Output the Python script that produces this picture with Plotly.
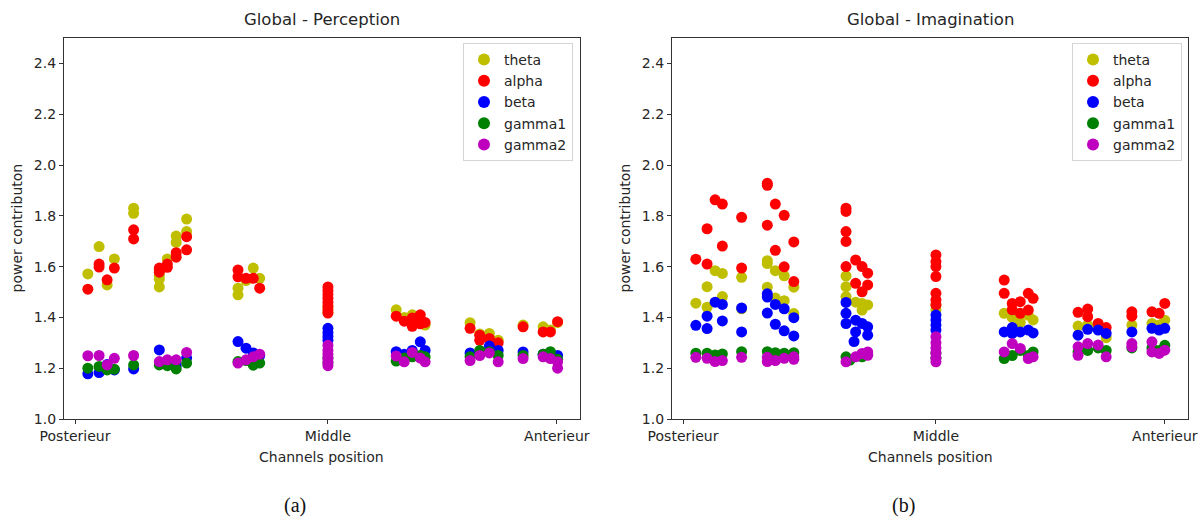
import plotly.graph_objects as go

# ---------------------------------------------------------------- data
bands = ["theta", "alpha", "beta", "gamma1", "gamma2"]

tick_pos = [0.0, 31.5, 60.0]
tick_text = ["Posterieur", "Middle", "Anterieur"]

# Perception (channel position, power contribution)
perc_theta_x = [1.6, 3.0, 4.0, 4.9, 7.3, 7.3, 10.5, 10.5, 10.5, 11.5, 12.6, 12.6, 13.9, 13.9,
                20.3, 20.3, 21.3, 22.2, 23.0, 31.5, 31.5, 40.0, 41.0, 42.0, 43.0, 43.6,
                49.2, 50.4, 51.6, 52.7, 55.8, 58.3, 59.2, 60.1]
perc_theta_y = [1.571, 1.679, 1.528, 1.630, 1.830, 1.810, 1.520, 1.550, 1.565, 1.630, 1.720, 1.695,
                1.787, 1.738, 1.489, 1.515, 1.545, 1.594, 1.554, 1.420, 1.440, 1.430, 1.400, 1.410,
                1.385, 1.370, 1.379, 1.335, 1.337, 1.310, 1.370, 1.363, 1.350, 1.380]

perc_alpha_x = [1.6, 3.0, 3.0, 4.0, 4.9, 7.3, 7.3, 10.5, 10.5, 10.5, 11.5, 11.5, 12.6, 12.6,
                13.9, 13.9, 20.3, 20.3, 21.3, 22.2, 23.0,
                31.5, 31.5, 31.5, 31.5, 31.5, 31.5, 31.5, 31.5,
                40.0, 41.0, 42.0, 42.0, 43.0, 43.0, 43.6, 49.2, 50.4, 50.4, 51.6, 52.7,
                55.8, 58.3, 59.2, 60.1]
perc_alpha_y = [1.511, 1.610, 1.598, 1.548, 1.594, 1.745, 1.709, 1.594, 1.587, 1.578, 1.610, 1.597,
                1.655, 1.637, 1.718, 1.666, 1.587, 1.560, 1.554, 1.554, 1.515,
                1.520, 1.505, 1.490, 1.475, 1.460, 1.445, 1.430, 1.417,
                1.405, 1.385, 1.398, 1.365, 1.410, 1.375, 1.380, 1.357, 1.330, 1.310, 1.317, 1.300,
                1.363, 1.343, 1.343, 1.383]

perc_beta_x = [1.6, 3.0, 4.0, 4.9, 7.3, 10.5, 11.5, 12.6, 13.9, 20.3, 21.3, 22.2, 23.0,
               31.5, 31.5, 31.5, 31.5, 40.0, 41.0, 42.0, 43.0, 43.6, 49.2, 50.4, 51.6, 52.7,
               55.8, 58.3, 59.2, 60.1]
perc_beta_y = [1.178, 1.183, 1.215, 1.193, 1.197, 1.272, 1.215, 1.210, 1.240, 1.305, 1.279, 1.260,
               1.250, 1.357, 1.340, 1.325, 1.310, 1.265, 1.255, 1.270, 1.304, 1.270, 1.260, 1.255,
               1.287, 1.270, 1.264, 1.255, 1.260, 1.250]

perc_gamma1_x = [1.6, 3.0, 4.0, 4.9, 7.3, 10.5, 11.5, 12.6, 13.9, 20.3, 21.3, 22.2, 23.0,
                 31.5, 31.5, 40.0, 41.0, 42.0, 43.0, 43.6, 49.2, 50.4, 51.6, 52.7, 55.8,
                 58.3, 59.2, 60.1]
perc_gamma1_y = [1.200, 1.207, 1.193, 1.196, 1.213, 1.213, 1.210, 1.197, 1.220, 1.226, 1.230, 1.212,
                 1.220, 1.220, 1.240, 1.228, 1.240, 1.245, 1.250, 1.245, 1.245, 1.270, 1.265, 1.250,
                 1.250, 1.255, 1.265, 1.235]

perc_gamma2_x = [1.6, 3.0, 4.0, 4.9, 7.3, 10.5, 11.5, 12.6, 13.9, 20.3, 21.3, 22.2, 23.0,
                 31.5, 31.5, 31.5, 31.5, 31.5, 31.5, 40.0, 41.0, 42.0, 43.0, 43.6,
                 49.2, 50.4, 51.6, 52.7, 55.8, 58.3, 59.2, 60.1, 60.1]
perc_gamma2_y = [1.249, 1.250, 1.213, 1.239, 1.250, 1.226, 1.233, 1.233, 1.262, 1.220, 1.233, 1.245,
                 1.255, 1.290, 1.270, 1.255, 1.240, 1.225, 1.210, 1.248, 1.225, 1.262, 1.240, 1.225,
                 1.230, 1.250, 1.260, 1.225, 1.238, 1.245, 1.238, 1.225, 1.200]

# Imagination (channel position, power contribution)
imag_theta_x = [1.6, 3.0, 3.0, 4.0, 4.9, 4.9, 7.3, 7.3, 10.5, 10.5, 10.5, 11.5, 11.5, 12.6, 12.6,
                13.8, 13.8, 20.3, 20.3, 20.3, 21.5, 22.3, 22.3, 23.0, 31.5, 31.5,
                40.0, 41.0, 42.0, 43.0, 43.6, 49.2, 50.4, 51.7, 52.7, 55.9, 58.4, 59.3, 60.0]
imag_theta_y = [1.456, 1.521, 1.440, 1.584, 1.573, 1.482, 1.558, 1.434, 1.623, 1.612, 1.519, 1.584,
                1.476, 1.564, 1.466, 1.519, 1.415, 1.563, 1.521, 1.482, 1.460, 1.455, 1.429, 1.449,
                1.450, 1.430, 1.416, 1.400, 1.380, 1.409, 1.390, 1.366, 1.370, 1.360, 1.320,
                1.370, 1.376, 1.370, 1.389]

imag_alpha_x = [1.6, 3.0, 3.0, 4.0, 4.9, 4.9, 7.3, 7.3, 10.5, 10.5, 10.5, 11.5, 11.5, 12.6, 12.6,
                13.8, 13.8, 20.3, 20.3, 20.3, 20.3, 20.3, 21.5, 21.5, 22.3, 22.3, 23.0, 23.0,
                31.5, 31.5, 31.5, 31.5, 31.5, 31.5, 31.5,
                40.0, 40.0, 41.0, 41.0, 42.0, 42.0, 43.0, 43.0, 43.6,
                49.2, 50.4, 50.4, 51.7, 52.7, 55.9, 55.9, 58.4, 59.3, 60.0]
imag_alpha_y = [1.629, 1.749, 1.610, 1.863, 1.846, 1.681, 1.794, 1.594, 1.928, 1.920, 1.763, 1.846,
                1.664, 1.802, 1.599, 1.697, 1.541, 1.830, 1.817, 1.738, 1.699, 1.600, 1.626, 1.534,
                1.600, 1.501, 1.574, 1.528,
                1.646, 1.620, 1.600, 1.561, 1.495, 1.469, 1.449,
                1.547, 1.495, 1.455, 1.430, 1.462, 1.416, 1.495, 1.429, 1.475,
                1.420, 1.433, 1.403, 1.376, 1.360, 1.422, 1.405, 1.422, 1.416, 1.455]

imag_beta_x = [1.6, 3.0, 3.0, 4.0, 4.9, 4.9, 7.3, 7.3, 10.5, 10.5, 10.5, 11.5, 11.5, 12.6, 12.6,
               13.8, 13.8, 20.3, 20.3, 20.3, 21.5, 21.5, 21.3, 22.3, 23.0, 23.0,
               31.5, 31.5, 31.5, 31.5, 40.0, 41.0, 41.0, 42.0, 43.0, 43.6,
               49.2, 50.4, 51.7, 52.7, 55.9, 58.4, 59.3, 60.0]
imag_beta_y = [1.369, 1.405, 1.356, 1.460, 1.451, 1.386, 1.437, 1.343, 1.493, 1.480, 1.417, 1.451,
               1.373, 1.434, 1.347, 1.399, 1.327, 1.459, 1.416, 1.376, 1.389, 1.343, 1.305, 1.376,
               1.363, 1.330, 1.409, 1.390, 1.370, 1.350, 1.343, 1.337, 1.360, 1.343, 1.350, 1.339,
               1.330, 1.353, 1.350, 1.337, 1.343, 1.357, 1.350, 1.357]

imag_gamma1_x = [1.6, 3.0, 4.0, 4.9, 7.3, 10.5, 11.5, 12.6, 13.8, 20.3, 20.8, 22.3, 23.0,
                 31.5, 31.5, 40.0, 41.0, 42.0, 43.0, 43.6, 49.2, 50.4, 51.7, 52.7, 55.9,
                 58.4, 59.3, 60.0]
imag_gamma1_y = [1.259, 1.259, 1.252, 1.256, 1.265, 1.265, 1.261, 1.259, 1.261, 1.245, 1.232, 1.245,
                 1.255, 1.240, 1.260, 1.238, 1.250, 1.270, 1.250, 1.264, 1.264, 1.270, 1.280, 1.270,
                 1.280, 1.280, 1.270, 1.290]

imag_gamma2_x = [1.6, 3.0, 4.0, 4.9, 7.3, 10.5, 10.5, 11.5, 12.6, 13.8, 13.8, 20.3, 21.5, 22.3,
                 23.0, 23.0, 31.5, 31.5, 31.5, 31.5, 31.5, 31.5, 40.0, 41.0, 42.0, 43.0, 43.6,
                 49.2, 49.2, 50.4, 51.7, 52.7, 55.9, 55.9, 58.4, 58.4, 59.3, 60.0]
imag_gamma2_y = [1.243, 1.239, 1.226, 1.230, 1.243, 1.243, 1.226, 1.230, 1.239, 1.245, 1.235, 1.225,
                 1.245, 1.258, 1.264, 1.251, 1.324, 1.300, 1.280, 1.260, 1.240, 1.225,
                 1.264, 1.297, 1.278, 1.238, 1.245, 1.284, 1.251, 1.297, 1.291, 1.245,
                 1.297, 1.284, 1.304, 1.264, 1.258, 1.271]

# ---------------------------------------------------------------- style
band_colors = {"theta": "#bfbf00", "alpha": "#ff0000", "beta": "#0000ff",
               "gamma1": "#008000", "gamma2": "#bf00bf"}
FONT = "DejaVu Sans"
TXT = "#262626"
W, H = 1201, 518

perception = {
    "theta": (perc_theta_x, perc_theta_y), "alpha": (perc_alpha_x, perc_alpha_y),
    "beta": (perc_beta_x, perc_beta_y), "gamma1": (perc_gamma1_x, perc_gamma1_y),
    "gamma2": (perc_gamma2_x, perc_gamma2_y),
}
imagination = {
    "theta": (imag_theta_x, imag_theta_y), "alpha": (imag_alpha_x, imag_alpha_y),
    "beta": (imag_beta_x, imag_beta_y), "gamma1": (imag_gamma1_x, imag_gamma1_y),
    "gamma2": (imag_gamma2_x, imag_gamma2_y),
}

fig = go.Figure()
for panel, xa, ya, leg in [(perception, "x", "y", "legend"), (imagination, "x2", "y2", "legend2")]:
    for b in bands:
        xs, ys = panel[b]
        fig.add_trace(go.Scatter(
            x=xs, y=ys, mode="markers", name=b, xaxis=xa, yaxis=ya, legend=leg,
            marker=dict(color=band_colors[b], size=11, line=dict(width=0)),
        ))

# axes boxes in pixels
left_box = (64, 580)
right_box = (672, 1188)
top_px, bot_px = 38, 419
ydom = [(H - bot_px) / H, (H - top_px) / H]

def xaxis_cfg(box):
    return dict(
        domain=[box[0] / W, box[1] / W], range=[-1.37, 62.89], automargin=False,
        tickmode="array", tickvals=tick_pos, ticktext=tick_text,
        ticks="outside", ticklen=4, tickwidth=1, tickcolor="#333",
        showline=True, linecolor="#333", linewidth=1.2, mirror=True,
        showgrid=False, zeroline=False,
        tickfont=dict(family=FONT, size=14, color=TXT),
    )

def yaxis_cfg(anchor):
    return dict(
        domain=ydom, range=[1.0, 2.5], anchor=anchor, automargin=False,
        tickmode="array", tickvals=[1.0, 1.2, 1.4, 1.6, 1.8, 2.0, 2.2, 2.4],
        ticktext=["1.0", "1.2", "1.4", "1.6", "1.8", "2.0", "2.2", "2.4"],
        ticks="outside", ticklen=4, tickwidth=1, tickcolor="#333",
        showline=True, linecolor="#333", linewidth=1.2, mirror=True,
        showgrid=False, zeroline=False,
        tickfont=dict(family=FONT, size=14, color=TXT),
    )

legend_style = dict(
    yanchor="top", y=(H - 43) / H, xanchor="right",
    bgcolor="rgba(255,255,255,0.8)", bordercolor="#d5d5d5", borderwidth=1,
    font=dict(family=FONT, size=14, color=TXT), itemsizing="constant",
)

fig.update_layout(
    width=W, height=H, margin=dict(l=0, r=0, t=0, b=0, autoexpand=False),
    paper_bgcolor="white", plot_bgcolor="white",
    xaxis=dict(anchor="y", **xaxis_cfg(left_box)),
    yaxis=yaxis_cfg("x"),
    xaxis2=dict(anchor="y2", **xaxis_cfg(right_box)),
    yaxis2=yaxis_cfg("x2"),
    legend=dict(x=573 / W, **legend_style),
    legend2=dict(x=1182 / W, **legend_style),
    showlegend=True,
)

def px_x(p):
    return p / W

def px_y(p):
    return (H - p) / H

annos = []
for box, title, cap in [(left_box, "Global - Perception", "(a)"),
                        (right_box, "Global - Imagination", "(b)")]:
    cx = (box[0] + box[1]) / 2
    annos.append(dict(x=px_x(cx), y=px_y(19), text=title, showarrow=False,
                      xref="paper", yref="paper", xanchor="center", yanchor="middle",
                      font=dict(family=FONT, size=16.5, color=TXT)))
    annos.append(dict(x=px_x(cx), y=px_y(457), text="Channels position", showarrow=False,
                      xref="paper", yref="paper", xanchor="center", yanchor="middle",
                      font=dict(family=FONT, size=14, color=TXT)))
    annos.append(dict(x=px_x(box[0] - 47), y=px_y((top_px + bot_px) / 2), text="power contributon",
                      textangle=-90, showarrow=False, xref="paper", yref="paper",
                      xanchor="center", yanchor="middle",
                      font=dict(family=FONT, size=14, color=TXT)))
    annos.append(dict(x=px_x(cx - 27), y=px_y(505), text=cap, showarrow=False,
                      xref="paper", yref="paper", xanchor="center", yanchor="middle",
                      font=dict(family="Liberation Serif", size=20, color="#111")))
fig.update_layout(annotations=annos)

fig.write_html("out.html")
